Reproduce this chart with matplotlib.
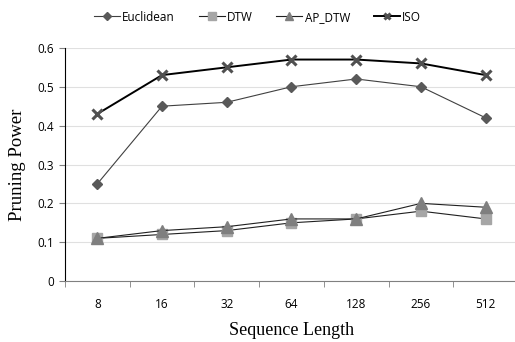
import matplotlib
matplotlib.use('Agg')
import matplotlib.pyplot as plt

# data
lengths = ['8', '16', '32', '64', '128', '256', '512']
euclidean = [0.25, 0.45, 0.46, 0.50, 0.52, 0.50, 0.42]
dtw = [0.11, 0.12, 0.13, 0.15, 0.16, 0.18, 0.16]
ap_dtw = [0.11, 0.13, 0.14, 0.16, 0.16, 0.20, 0.19]
iso = [0.43, 0.53, 0.55, 0.57, 0.57, 0.56, 0.53]
y_ticks = [0, 0.1, 0.2, 0.3, 0.4, 0.5, 0.6]
y_tick_labels = ['0', '0.1', '0.2', '0.3', '0.4', '0.5', '0.6']

plt.rcParams['font.family'] = 'Open Sans'

fig = plt.figure(figsize=(5.15, 3.42), dpi=100)
ax = fig.add_axes([0.126, 0.178, 0.88, 0.682])

x = range(len(lengths))
ax.plot(x, euclidean, color='#404040', linewidth=0.8, marker='D', markersize=5.5,
        markerfacecolor='#595959', markeredgecolor='#595959', label='Euclidean')
ax.plot(x, dtw, color='#202020', linewidth=0.8, marker='s', markersize=7.5,
        markerfacecolor='#a6a6a6', markeredgecolor='#a6a6a6', label='DTW')
ax.plot(x, ap_dtw, color='#202020', linewidth=0.8, marker='^', markersize=8,
        markerfacecolor='#7f7f7f', markeredgecolor='#7f7f7f', label='AP_DTW')
ax.plot(x, iso, color='#000000', linewidth=1.4, marker='x', markersize=7,
        markeredgewidth=2.2, markeredgecolor='#505050', label='ISO')

ax.set_xlim(-0.5, len(lengths) - 0.5)
ax.set_ylim(0, 0.6)
ax.set_yticks(y_ticks)
ax.set_yticklabels(y_tick_labels, fontsize=8.5)
ax.set_xticks(list(x))
ax.set_xticklabels(lengths, fontsize=8.5)
ax.tick_params(axis='x', length=0, pad=12)
ax.set_xticks([i + 0.5 for i in range(-1, len(lengths))], minor=True)
ax.tick_params(axis='x', which='minor', length=4, direction='out', color='#808080')
ax.tick_params(axis='y', length=4, direction='out', color='#808080', pad=4)

ax.grid(axis='y', color='#e0e0e0', linewidth=0.8)
ax.set_axisbelow(True)
for s in ['top', 'right']:
    ax.spines[s].set_visible(False)
ax.spines['left'].set_color('#000000')
ax.spines['bottom'].set_color('#808080')

ax.set_xlabel('Sequence Length', family='Liberation Serif', fontsize=13, labelpad=8)
ax.set_ylabel('Pruning Power', family='Liberation Serif', fontsize=13.5, labelpad=8)

fig.legend(loc='upper center', bbox_to_anchor=(0.5, 1.0), ncol=4, frameon=False,
           fontsize=8.5, handlelength=2.2, handletextpad=0.2, columnspacing=2.0,
           markerscale=0.7)

fig.savefig('out.png', dpi=100)
